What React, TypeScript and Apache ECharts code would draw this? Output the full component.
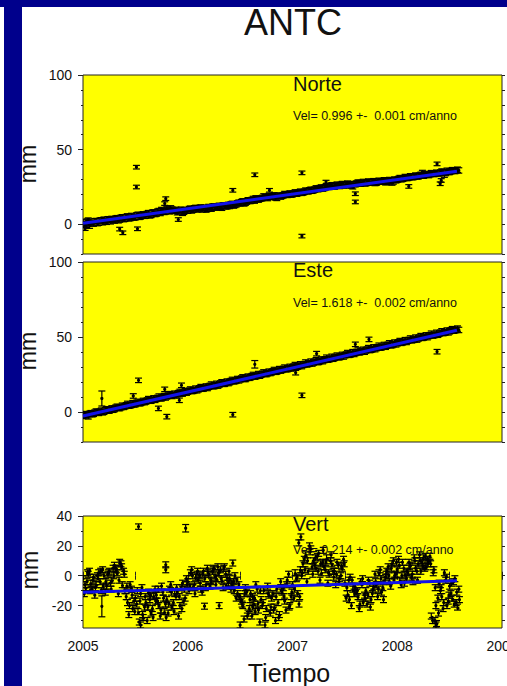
import React, { useEffect, useRef } from 'react';
import * as echarts from 'echarts';

// Epochs: first sample at T0 (decimal year), one sample every DT year
const T0 = 2005.0;
const DT = 0.025;

const xTickYears = [2005, 2006, 2007, 2008, 2009];

// Norte (mm) — two interleaved sample sets
const norteValuesA = [
  1.2, -0.5, 0.8, 1.6, 0.4, 2.1, 1.0, 2.6, 3.0, 1.6, 2.8, 3.5,
  2.4, 4.0, 3.1, 4.6, 3.6, 5.2, 4.1, 5.0, 4.7, 6.3, 5.2, 6.6,
  5.8, 7.4, 6.2, 7.9, 7.1, 8.8, 9.5, 8.2, 10.2, 8.6, 9.8, 8.9,
  8.0, 9.1, 7.6, 9.4, 9.0, 10.4, 9.7, 10.9, 10.0, 11.2, 10.6, 9.8,
  11.5, 10.4, 11.9, 11.2, 12.3, 11.0, 12.6, 12.0, 12.2, 13.6, 12.9, 13.9,
  14.0, 15.3, 14.4, 16.0, 15.6, 16.9, 17.3, 16.5, 17.2, 18.6, 18.0, 18.9,
  18.2, 19.3, 17.6, 19.0, 19.0, 20.2, 19.6, 20.6, 20.1, 21.3, 20.8, 21.8,
  21.2, 22.5, 22.0, 23.1, 22.8, 24.0, 23.6, 24.6, 24.2, 25.6, 25.0, 26.1,
  25.2, 26.5, 25.6, 26.9, 26.0, 27.2, 26.3, 25.4, 26.8, 27.9, 27.1, 28.3,
  27.4, 28.6, 27.9, 28.8, 27.8, 29.1, 28.5, 29.4, 28.3, 29.6, 27.9, 29.9,
  29.8, 30.9, 30.4, 31.6, 31.0, 32.1, 31.5, 32.6, 32.0, 33.1, 32.5, 33.6,
  32.9, 34.2, 33.6, 34.5, 34.0, 35.3, 33.2, 35.8, 35.0, 36.2, 35.6, 36.5,
];
const norteValuesB = [
  0.1, 1.8, -1.0, 0.6, 1.9, 0.7, 2.4, 1.3, 2.1, 3.3, 1.9, 3.0,
  3.7, 2.6, 4.3, 3.4, 4.8, 3.9, 5.5, 4.4, 5.9, 4.9, 6.1, 5.6,
  6.9, 5.9, 7.7, 6.8, 8.4, 7.5, 9.0, 8.6, 9.5, 10.6, 9.0, 9.6,
  8.5, 9.7, 8.3, 9.0, 10.1, 9.2, 10.6, 10.0, 10.8, 9.9, 11.0, 10.3,
  10.8, 11.7, 11.1, 12.0, 11.6, 12.5, 11.9, 12.9, 13.2, 12.5, 13.3, 14.4,
  14.8, 13.9, 15.1, 15.6, 16.2, 15.8, 16.6, 17.0, 17.6, 18.2, 17.5, 18.4,
  18.8, 18.0, 19.1, 18.5, 19.4, 19.9, 20.1, 19.8, 20.6, 20.4, 21.2, 21.0,
  21.7, 22.1, 22.7, 22.4, 23.2, 23.5, 24.2, 23.9, 24.7, 25.1, 25.5, 25.3,
  25.8, 25.9, 26.3, 26.0, 26.6, 26.7, 25.9, 26.9, 27.3, 27.5, 27.6, 27.4,
  28.0, 28.1, 28.3, 27.6, 28.4, 28.6, 28.8, 28.1, 28.9, 29.2, 28.6, 29.4,
  30.3, 30.1, 30.8, 31.0, 31.4, 31.6, 31.9, 32.0, 32.5, 32.6, 33.0, 33.2,
  33.5, 33.8, 34.0, 34.1, 34.6, 34.8, 34.3, 35.0, 35.5, 35.9, 36.1, 36.0,
];
const norteOutliers = [
  [2005.02, -3.0], [2005.05, 3.0], [2005.35, -3.3], [2005.38, -5.8], [2005.51, 38.2],
  [2005.51, 24.9], [2005.52, -3.1], [2005.78, 13.8], [2005.79, 17.1], [2005.91, 3.1],
  [2006.43, 22.7], [2006.64, 33.1], [2006.78, 22.7], [2007.09, 34.4], [2007.09, -8.0],
  [2007.32, 28.2], [2007.6, 14.9], [2007.6, 20.4], [2008.11, 25.3], [2008.24, 34.9],
  [2008.38, 40.4], [2008.41, 27.1], [2008.42, 29.3],
];
const norteTrend = [[2005.0, 0.6], [2008.57, 35.5]];

// Este (mm) — two interleaved sample sets
const esteValuesA = [
  -2.6, -1.4, -2.9, -0.8, -1.2, 0.3, -0.6, 0.9, 0.2, 1.8, 0.9, 2.4,
  2.0, 3.5, 2.6, 4.2, 3.8, 5.4, 4.4, 5.9, 5.3, 6.8, 6.0, 7.4,
  7.0, 8.6, 7.5, 9.1, 8.8, 10.3, 9.2, 10.6, 10.4, 11.9, 10.7, 12.2,
  12.0, 13.4, 12.3, 13.9, 13.6, 15.0, 14.1, 15.6, 15.1, 16.6, 15.7, 17.0,
  16.8, 18.3, 17.2, 18.8, 18.3, 19.8, 18.8, 20.3, 19.9, 21.4, 20.6, 22.0,
  21.8, 23.1, 22.0, 23.6, 23.2, 24.7, 23.8, 25.3, 24.9, 26.4, 25.3, 26.9,
  26.5, 28.0, 27.0, 28.6, 28.1, 29.6, 28.6, 30.1, 29.7, 31.3, 30.3, 31.8,
  31.4, 33.0, 32.1, 33.6, 33.0, 34.5, 33.4, 35.0, 34.6, 36.2, 35.2, 36.8,
  36.1, 37.6, 36.6, 38.1, 37.8, 39.3, 38.3, 39.9, 39.4, 41.0, 40.1, 41.5,
  41.0, 42.6, 41.5, 43.1, 42.6, 44.2, 43.2, 44.7, 44.2, 45.8, 44.6, 46.3,
  45.8, 47.3, 46.5, 47.9, 47.5, 49.0, 48.1, 49.6, 49.0, 50.6, 49.7, 51.1,
  50.7, 52.2, 51.2, 52.8, 52.2, 53.8, 52.9, 54.3, 53.8, 55.2, 54.5, 55.6,
];
const esteValuesB = [
  -1.9, -2.2, -1.3, -1.5, -0.4, -0.1, 0.2, -0.2, 1.3, 1.0, 1.6, 1.5,
  2.9, 2.7, 3.2, 3.4, 4.5, 4.2, 4.8, 5.0, 6.1, 5.8, 6.5, 6.6,
  7.7, 7.6, 8.2, 8.1, 9.4, 9.1, 9.8, 9.7, 11.0, 10.9, 11.4, 11.2,
  12.6, 12.4, 13.0, 12.9, 14.2, 14.0, 14.6, 14.5, 15.8, 15.5, 16.2, 16.0,
  17.4, 17.3, 17.8, 17.6, 19.0, 18.8, 19.4, 19.3, 20.6, 20.5, 21.0, 21.1,
  22.3, 22.1, 22.7, 22.8, 23.9, 23.6, 24.3, 24.2, 25.5, 25.4, 25.9, 26.0,
  27.1, 26.8, 27.5, 27.6, 28.7, 28.5, 29.1, 29.0, 30.3, 30.1, 30.8, 30.6,
  31.9, 31.7, 32.4, 32.3, 33.5, 33.3, 34.0, 33.9, 35.1, 34.9, 35.6, 35.5,
  36.7, 36.5, 37.1, 37.0, 38.3, 38.1, 38.8, 38.7, 40.0, 39.7, 40.4, 40.2,
  41.6, 41.3, 42.0, 41.9, 43.2, 42.9, 43.6, 43.5, 44.8, 44.5, 45.2, 45.1,
  46.4, 46.1, 46.8, 46.7, 48.0, 47.8, 48.4, 48.3, 49.6, 49.4, 50.1, 49.9,
  51.2, 51.0, 51.6, 51.5, 52.8, 52.6, 53.2, 53.1, 54.4, 54.2, 54.8, 54.7,
];
const esteOutliers = [
  [2005.18, 9.0, 5.0], [2005.48, 10.7, 1.5], [2005.53, 21.1, 1.5], [2005.72, 2.4, 1.5],
  [2005.8, -3.1, 1.5], [2005.78, 15.1, 1.5], [2005.92, 7.8, 1.5], [2005.94, 17.8, 1.5],
  [2006.43, -1.8, 1.5], [2006.64, 31.8, 2.5], [2007.03, 26.2, 1.5], [2007.09, 11.1, 1.5],
  [2007.23, 38.9, 1.5], [2007.6, 45.1, 1.5], [2007.73, 48.4, 1.5], [2008.38, 40.2, 1.5],
];
const esteTrend = [[2005.0, -2.7], [2008.57, 54.5]];

// Vert (mm) — three interleaved sample sets
const vertValuesA = [
  -2, -8, 1, -5, -1, -6, 2, -10, 0, -7, 3, -3,
  7, 2, 9, -6, -10, -18, -6, -22, -15, -24, -12, -28,
  -18, -11, -25, -14, -13, -20, -7, -24, -16, -9, -21, -12,
  -11, -20, -5, -15, -4, 2, -8, -1, -3, -9, 3, -6,
  1, -4, 5, -2, 2, -3, 6, -1, -2, -7, 0, -12,
  -14, -20, -8, -25, -12, -18, -6, -23, -16, -10, -22, -13,
  -15, -21, -9, -26, -11, -17, -3, -20, -6, 2, -12, 4,
  8, 14, 3, 18, 10, 5, 15, 2, 6, 12, 1, 8,
  3, 9, -2, 5, -5, -12, -1, -9, -8, -14, -4, -18,
  -10, -3, -16, -7, -6, 2, -11, -3, 3, -4, 8, 0,
  4, -3, 9, 1, 2, 7, -4, 5, 8, 3, 12, 6,
  10, -27, 4, -32, -5, -14, 2, -20, -7, -15, -2, -21,
];
const vertValuesB = [
  -12, -4, 3, -9, -13, 0, -4, 4, -11, 1, -5, 5,
  5, -12, 8, 3, -14, -26, -9, -17, -19, -31, -8, -21,
  -30, -16, -22, -9, -17, -27, -11, -19, -25, -6, -18, -14,
  -27, -8, -17, -2, -10, 4, -6, 1, 0, -11, -2, 5,
  -7, 3, -1, 6, 4, -8, 1, -5, -9, -4, -15, -6,
  -17, -29, -11, -22, -27, -15, -9, -31, -20, -33, -7, -25,
  -12, -30, -18, -4, -8, -23, 1, -14, -15, -2, -19, 0,
  11, -4, 20, 6, 7, 13, -3, 9, 4, -5, 10, 3,
  -6, 7, 0, 11, -15, -3, -20, -7, -11, -22, -6, -13,
  -19, -5, -12, 1, -14, 4, -8, -1, 6, -7, 10, 1,
  11, -6, 5, -2, 9, -1, 12, 3, 14, 9, 5, 11,
  13, -30, -8, -15, -10, -22, -3, -17, -12, -4, -18, -9,
];
const vertValuesC = [
  -6, 2, -10, -3, -8, -2, 3, -7, -4, 2, -9, 0,
  4, -3, 6, 1, -7, -20, -13, -24, -10, -17, -26, -14,
  -21, -13, -28, -17, -9, -23, -15, -28, -19, -11, -24, -8,
  -14, -22, -9, -6, -7, 0, -12, 3, -5, 1, -8, 2,
  -3, 4, -6, 2, -2, 5, -7, 3, -5, -10, -3, -14,
  -19, -12, -27, -16, -14, -24, -19, -10, -18, -28, -12, -21,
  -23, -14, -28, -10, -14, -6, -21, -11, -9, -1, -14, 2,
  4, 10, 16, 1, 12, 3, 8, 17, 9, 2, 14, -1,
  1, -4, 6, 8, -8, -16, -3, -12, -10, -19, -2, -15,
  -13, -21, -9, -4, -9, -2, -16, 1, 0, 5, -3, 9,
  7, 0, -5, 3, 6, 1, 10, -3, 10, 6, 13, 8,
  8, 2, -20, -25, -8, -18, -1, -13, -5, -19, -11, -16,
];
const vertOutliers = [
  [2005.18, -20.5, 7.0], [2005.53, 32.9, 1.8], [2005.98, 31.8, 2.5], [2005.79, 7.3, 2.0],
  [2005.79, 4.0, 2.0], [2006.43, 8.5, 2.0], [2006.16, -20.4, 2.0], [2006.3, -20.0, 2.0],
  [2007.08, 26.0, 2.0], [2007.06, 22.0, 2.0], [2008.36, -30.0, 2.0], [2008.37, -33.0, 2.0],
  [2006.62, -21.0, 2.0], [2006.5, -33.0, 2.0], [2005.55, -33.0, 2.0],
];
const vertTrend = [[2005.0, -11.0], [2008.57, -3.4]];

const FONT = '"Liberation Sans", Arial, Helvetica, sans-serif';
const NAVY = '#00008c';

function mainData(values: number[], err: number, offset: number) {
  return values.map((v, i) => [T0 + offset + i * DT, v, err]);
}

function errorBarSeries(xIdx: number, yIdx: number, data: number[][], cap: number) {
  return {
    type: 'custom',
    xAxisIndex: xIdx,
    yAxisIndex: yIdx,
    data,
    clip: true,
    z: 2,
    renderItem: (_p: any, api: any) => {
      const x = api.value(0);
      const y = api.value(1);
      const e = api.value(2);
      const c = api.coord([x, y]);
      const hi = api.coord([x, y + e]);
      const lo = api.coord([x, y - e]);
      const st = { stroke: '#000', lineWidth: 1.2, fill: null };
      return {
        type: 'group',
        children: [
          { type: 'line', shape: { x1: c[0], y1: hi[1], x2: c[0], y2: lo[1] }, style: st },
          { type: 'line', shape: { x1: c[0] - cap, y1: hi[1], x2: c[0] + cap, y2: hi[1] }, style: st },
          { type: 'line', shape: { x1: c[0] - cap, y1: lo[1], x2: c[0] + cap, y2: lo[1] }, style: st },
          { type: 'circle', shape: { cx: c[0], cy: c[1], r: 1.6 }, style: { fill: '#000' } },
        ],
      };
    },
  };
}

function trendSeries(xIdx: number, yIdx: number, data: number[][]) {
  return {
    type: 'line',
    xAxisIndex: xIdx,
    yAxisIndex: yIdx,
    data,
    symbol: 'none',
    z: 5,
    lineStyle: { color: '#1212e8', width: 3 },
  };
}

function yAxesFor(gridIndex: number, min: number, max: number, majors: number[], minors: number[]) {
  const all = [...majors, ...minors].sort((a, b) => a - b);
  const base = {
    type: 'value',
    gridIndex,
    min,
    max,
    axisLine: { show: false },
    splitLine: { show: false },
  };
  return [
    {
      ...base,
      position: 'left',
      axisTick: { show: true, length: 5, customValues: majors, lineStyle: { color: '#222' } },
      axisLabel: { show: true, customValues: majors, fontSize: 14, color: '#111', margin: 11, fontFamily: FONT },
    },
    {
      ...base,
      position: 'left',
      axisTick: { show: true, length: 2, customValues: minors, lineStyle: { color: '#222' } },
      axisLabel: { show: false },
    },
    {
      ...base,
      position: 'right',
      axisTick: { show: true, length: 3, customValues: all, lineStyle: { color: '#222' } },
      axisLabel: { show: false },
    },
  ];
}

const textStyle = (text: string, fontSize: number, align = 'left') => ({
  text,
  fontSize,
  fontFamily: FONT,
  fill: '#111',
  align,
  verticalAlign: 'middle',
});

export default function App() {
  const ref = useRef<HTMLDivElement>(null);

  useEffect(() => {
    if (!ref.current) return;
    const chart = echarts.init(ref.current, null, { renderer: 'svg' });

    const gridStyle = {
      show: true,
      backgroundColor: '#ffff00',
      borderColor: '#222',
      borderWidth: 1,
      containLabel: false,
      outerBoundsMode: 'none',
    };
    const xBase = { type: 'value', min: 2005, max: 2009 };

    const option: any = {
      animation: false,
      backgroundColor: '#ffffff',
      grid: [
        { left: 83, top: 75, width: 419, height: 179, ...gridStyle },
        { left: 83, top: 262, width: 419, height: 180, ...gridStyle },
        { left: 83, top: 516, width: 419, height: 112, ...gridStyle },
      ],
      xAxis: [
        { ...xBase, gridIndex: 0, show: false },
        { ...xBase, gridIndex: 1, show: false },
        {
          ...xBase,
          gridIndex: 2,
          position: 'bottom',
          interval: 0.5,
          axisLine: { show: false },
          splitLine: { show: false },
          axisTick: { show: true, length: 4, lineStyle: { color: '#222' } },
          axisLabel: {
            show: true,
            fontSize: 14,
            color: '#111',
            margin: 11,
            fontFamily: FONT,
            hideOverlap: false,
            formatter: (v: number) => (xTickYears.includes(v) ? String(v) : ''),
          },
        },
        {
          ...xBase,
          gridIndex: 2,
          position: 'top',
          interval: 0.5,
          axisLine: { show: false },
          splitLine: { show: false },
          axisTick: { show: true, length: 4, lineStyle: { color: '#222' } },
          axisLabel: { show: false },
        },
      ],
      yAxis: [
        ...yAxesFor(0, -20, 100, [0, 50, 100], [-20, -10, 10, 20, 30, 40, 60, 70, 80, 90]),
        ...yAxesFor(1, -20, 100, [0, 50, 100], [-20, -10, 10, 20, 30, 40, 60, 70, 80, 90]),
        ...yAxesFor(2, -35, 40, [-20, 0, 20, 40], [-30, -10, 10, 30]),
      ],
      series: [
        errorBarSeries(0, 0, [
          ...mainData(norteValuesA, 1.8, 0),
          ...mainData(norteValuesB, 1.8, DT / 2),
          ...norteOutliers.map((p) => [p[0], p[1], 1.2]),
        ], 3.5),
        trendSeries(0, 0, norteTrend),
        errorBarSeries(1, 3, [
          ...mainData(esteValuesA, 1.8, 0),
          ...mainData(esteValuesB, 1.8, DT / 2),
          ...esteOutliers,
        ], 3.5),
        trendSeries(1, 3, esteTrend),
        errorBarSeries(2, 6, [
          ...mainData(vertValuesA, 2.0, 0),
          ...mainData(vertValuesB, 2.0, DT / 2),
          ...mainData(vertValuesC, 2.0, (3 * DT) / 4),
          ...vertOutliers,
        ], 3.5),
        trendSeries(2, 6, vertTrend),
      ],
      graphic: [
        { type: 'rect', shape: { x: 0, y: 0, width: 507, height: 7 }, style: { fill: NAVY } },
        { type: 'rect', shape: { x: 4, y: 0, width: 18, height: 686 }, style: { fill: NAVY } },
        { type: 'text', x: 293, y: 22, style: textStyle('ANTC', 36, 'center') },
        { type: 'text', x: 289, y: 673, style: textStyle('Tiempo', 25, 'center') },
        { type: 'text', x: 28, y: 164, rotation: Math.PI / 2, style: textStyle('mm', 23, 'center') },
        { type: 'text', x: 28, y: 351, rotation: Math.PI / 2, style: textStyle('mm', 23, 'center') },
        { type: 'text', x: 30, y: 570, rotation: Math.PI / 2, style: textStyle('mm', 23, 'center') },
        { type: 'text', x: 293, y: 84, z: 10, style: textStyle('Norte', 20) },
        { type: 'text', x: 293, y: 116, z: 10, style: textStyle('Vel= 0.996 +-  0.001 cm/anno', 12.5) },
        { type: 'text', x: 293, y: 270, z: 10, style: textStyle('Este', 20) },
        { type: 'text', x: 293, y: 303, z: 10, style: textStyle('Vel= 1.618 +-  0.002 cm/anno', 12.5) },
        { type: 'text', x: 293, y: 524, z: 10, style: textStyle('Vert', 20) },
        { type: 'text', x: 293, y: 550, z: 10, style: textStyle('Vel= 0.214 +- 0.002 cm/anno', 12.5) },
      ],
    };

    chart.setOption(option);
    return () => chart.dispose();
  }, []);

  return (
    <div
      ref={ref}
      style={{ position: 'absolute', left: 0, top: 0, width: 507, height: 686, background: '#fff' }}
    />
  );
}
